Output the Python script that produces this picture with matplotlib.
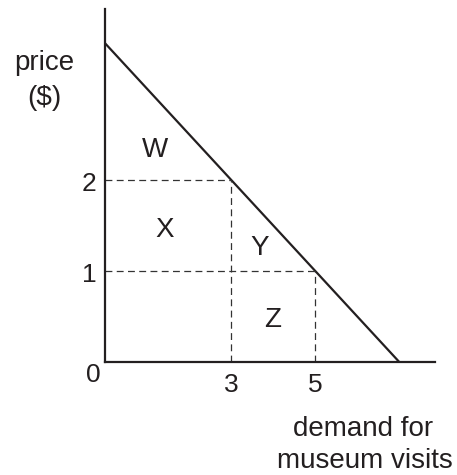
import matplotlib
matplotlib.use("Agg")
import matplotlib.pyplot as plt

# Data
demand_x = [0, 7]
demand_y = [3.5, 0]
prices = [1, 2]
quantities = [5, 3]
x_ticks = [3, 5]
x_tick_labels = ["3", "5"]
y_ticks = [1, 2]
y_tick_labels = ["1", "2"]
area_labels = ["W", "X", "Y", "Z"]
area_pos = [(1.19, 2.25), (1.43, 1.37), (3.69, 1.17), (4.0, 0.38)]

plt.rcParams['font.family'] = ['Liberation Sans', 'DejaVu Sans']
W, H = 457, 475
fig = plt.figure(figsize=(W/100, H/100), dpi=100)
x0, y0 = 105, 361.7
xr, ytop = 435, 9.3
ax = fig.add_axes([x0/W, (H-y0)/H, (xr-x0)/W, (y0-ytop)/H])
ax.set_xlim(0, (xr-x0)/42)
ax.set_ylim(0, (y0-ytop)/91)
for s in ['top', 'right']:
    ax.spines[s].set_visible(False)
for s in ['left', 'bottom']:
    ax.spines[s].set_linewidth(1.6)
    ax.spines[s].set_color('#231f20')
ax.set_xticks([])
ax.set_yticks([])

ax.plot(demand_x, demand_y, color='#231f20', lw=1.6, solid_capstyle='butt', clip_on=False)

dash = dict(color='#333333', lw=0.9, dashes=(5.5, 3.5))
for q, p in zip(quantities, prices):
    ax.plot([0, q], [p, p], **dash)
    ax.plot([q, q], [0, p], **dash)

fs = 20
fd = 19
col = '#231f20'
for t, lab in zip(x_ticks, x_tick_labels):
    ax.text(t, -0.333, lab, fontsize=fd, ha='center', va='baseline', color=col, clip_on=False)
for t, lab in zip(y_ticks, y_tick_labels):
    ax.text(-0.2, t - 0.12, lab, fontsize=fd, ha='right', va='baseline', color=col, clip_on=False)
ax.text(-0.286, -0.223, "0", fontsize=fd, ha='center', va='baseline', color=col, clip_on=False)

for lab, (px, py) in zip(area_labels, area_pos):
    ax.text(px, py, lab, fontsize=fs, ha='center', va='baseline', color=col)

fig.text(44/W, 1-70/H, "price", fontsize=fs, ha='center', va='baseline', color=col)
fig.text(44.5/W, 1-105/H, "($)", fontsize=fs, ha='center', va='baseline', color=col)
fig.text(363/W, 1-436/H, "demand for", fontsize=fs, ha='center', va='baseline', color=col)
fig.text(365/W, 1-468.5/H, "museum visits", fontsize=fs, ha='center', va='baseline', color=col)

fig.savefig("out.png", dpi=100)
